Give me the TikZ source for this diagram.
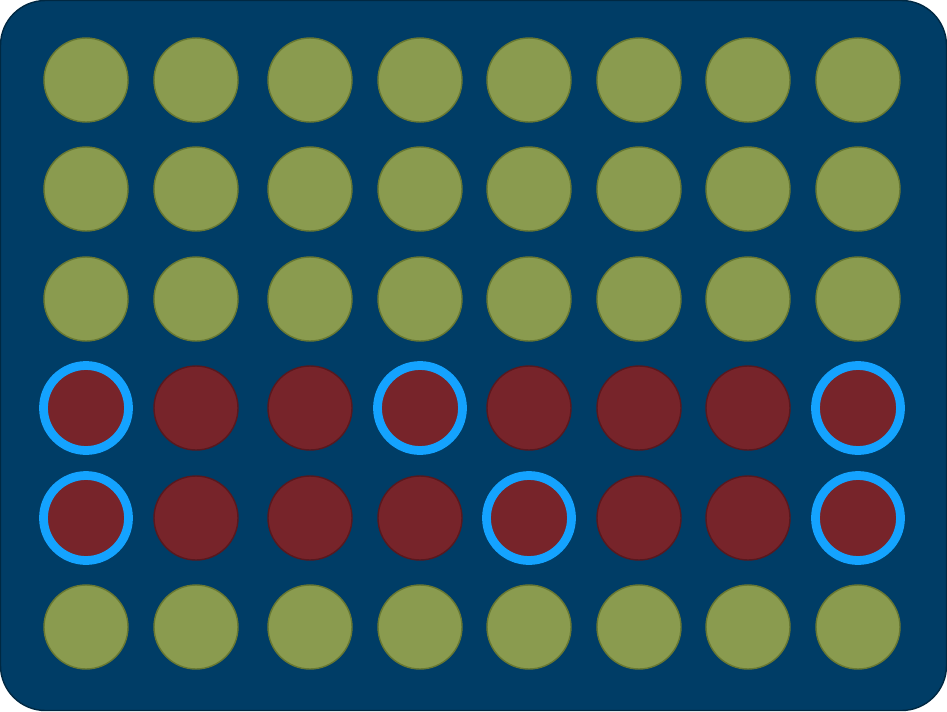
\documentclass[tikz,border=0pt]{standalone}
\usepackage{xcolor}
\usepackage{tikz}
\definecolor{board}{RGB}{0,61,102}
\definecolor{boardedge}{RGB}{0,40,66}
\definecolor{pegg}{RGB}{138,155,79}
\definecolor{pegged}{RGB}{104,120,50}
\definecolor{pegr}{RGB}{119,36,42}
\definecolor{pegred}{RGB}{88,24,30}
\definecolor{ringc}{RGB}{20,163,255}
\tikzset{
  boardbox/.style={fill=board, draw=boardedge, line width=0.8pt, rounded corners=0.9cm},
  greenpeg/.style={circle, fill=pegg, draw=pegged, line width=0.8pt, minimum size=1.68cm, inner sep=0pt},
  redpeg/.style={circle, fill=pegr, draw=pegred, line width=0.8pt, minimum size=1.68cm, inner sep=0pt},
  ring/.style={draw=ringc, line width=5pt}
}

\begin{document}
\begin{tikzpicture}[x=0.02cm,y=-0.02cm]
\useasboundingbox (0,0) rectangle (947,711);
\draw[boardbox] (0.5,0.5) rectangle (946.5,710.5);
% green rows
\foreach \y/\r in {80/1,189/2,299/3,627/6}
  \foreach \x [count=\c] in {86,196,310,420,529,639,748,858}
    \node[greenpeg] (p-\r-\c) at (\x,\y) {};
% red rows
\foreach \y/\r in {408/4,518/5}
  \foreach \x [count=\c] in {86,196,310,420,529,639,748,858}
    \node[redpeg] (p-\r-\c) at (\x,\y) {};
% highlighted pegs
\foreach \p in {p-4-1,p-4-4,p-4-8,p-5-1,p-5-5,p-5-8}
  \draw[ring] (\p.center) circle (42.5);
\end{tikzpicture}
\end{document}
